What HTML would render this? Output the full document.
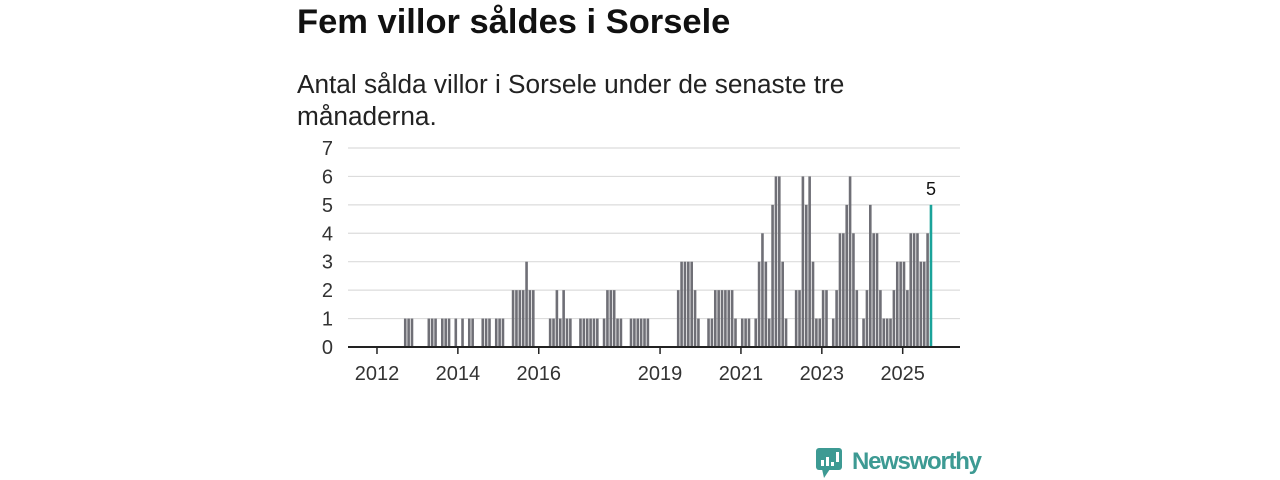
<!DOCTYPE html>
<html><head><meta charset="utf-8">
<style>
body{margin:0;width:1280px;height:480px;background:#fff;font-family:"Liberation Sans",sans-serif;overflow:hidden;position:relative}
#title{position:absolute;left:297px;top:3px;font-size:34.5px;font-weight:bold;color:#111;margin:0}
#sub{position:absolute;left:297px;top:68px;font-size:26.2px;line-height:32px;color:#222;width:600px}
svg{position:absolute;left:0;top:0}
</style></head><body>
<h1 id="title">Fem villor såldes i Sorsele</h1>
<div id="sub">Antal sålda villor i Sorsele under de senaste tre månaderna.</div>
<svg id="chart" width="1280" height="480"></svg>
<svg width="1280" height="480" style="pointer-events:none">
<rect x="816" y="448" width="26" height="22" rx="3" fill="#3d9a93"/>
<polygon points="822,469 830,469 824,478" fill="#3d9a93"/>
<rect x="821" y="460" width="3" height="6" fill="#fff"/><rect x="826" y="457" width="3" height="9" fill="#fff"/><rect x="831" y="462" width="3" height="4" fill="#fff"/><rect x="836" y="452" width="3" height="10" fill="#fff"/>
<text x="852" y="469" font-size="24" font-weight="bold" fill="#3d9a93" font-family="Liberation Sans, sans-serif" textLength="130">Newsworthy</text>
</svg>
<script>
const startMonth = -8; // months offset from Jan 2012 (May 2011)
const values = [0,0,0,0,0,0,0,0,0,0,0,0,0,0,0,0,
1,1,1,0,0,0,0,1,1,1,0,1,1,1,0,1,0,1,0,1,1,0,0,1,1,1,0,1,1,1,0,0,
2,2,2,2,3,2,2,0,0,0,0,
1,1,2,1,2,1,1,0,0,
1,1,1,1,1,1,0,
1,2,2,2,1,1,0,0,
1,1,1,1,1,1,0,0,0,0,0,0,0,0,
2,3,3,3,3,2,1,0,0,
1,1,2,2,2,2,2,2,1,0,1,1,1,0,
1,3,4,3,1,5,6,6,3,1,0,0,
2,2,6,5,6,3,1,1,2,2,0,
1,2,4,4,5,6,4,2,0,
1,2,5,4,4,2,1,1,1,2,3,3,3,2,4,4,4,3,3,4,5];
const yTicks = [0,1,2,3,4,5,6,7];
const xTickYears = [2012,2014,2016,2019,2021,2023,2025];

const svg = document.getElementById('chart');
const NS = 'http://www.w3.org/2000/svg';
const x0 = 348, x1 = 960, y0 = 347, unit = 28.43, pitch = 3.37;
const xS = m => x0 + (m + 8.6) * pitch;
const yS = v => y0 - v * unit;
function mk(tag, attrs){const e=document.createElementNS(NS,tag);for(const k in attrs)e.setAttribute(k,attrs[k]);svg.appendChild(e);return e;}

yTicks.forEach(t=>{
  if(t>0){const g=mk('line',{x1:x0,x2:x1,y1:yS(t),y2:yS(t),stroke:'#dcdcdc','stroke-width':1.2});
  
  }
  const l=mk('text',{x:333,y:yS(t)+7,'text-anchor':'end','font-size':20,fill:'#333','font-family':'Liberation Sans, sans-serif'});
  l.textContent=t;
  
  
});

const last = values.length-1;
values.forEach((v,i)=>{
  if(v<=0) return;
  const m = startMonth + i;
  const r=mk('rect',{x:xS(m),y:yS(v),width:2.6,height:v*unit,fill:i===last?'#1aa39a':'#6f6f76'});
  
  
});
const lm = startMonth+last;
const vl=mk('text',{x:xS(lm)+1.3,y:yS(values[last])-10,'text-anchor':'middle','font-size':18,fill:'#111','font-family':'Liberation Sans, sans-serif'});
vl.textContent=values[last];



const ax=mk('line',{x1:x0,x2:x1,y1:y0,y2:y0,stroke:'#222','stroke-width':2});



xTickYears.forEach(yr=>{
  const x=xS((yr-2012)*12);
  const t=mk('line',{x1:x,x2:x,y1:y0,y2:y0+7,stroke:'#222','stroke-width':1.5});
  
  
  const l=mk('text',{x:x,y:380,'text-anchor':'middle','font-size':20,fill:'#333','font-family':'Liberation Sans, sans-serif'});
  l.textContent=yr;
  
  
});
</script>
</body></html>
